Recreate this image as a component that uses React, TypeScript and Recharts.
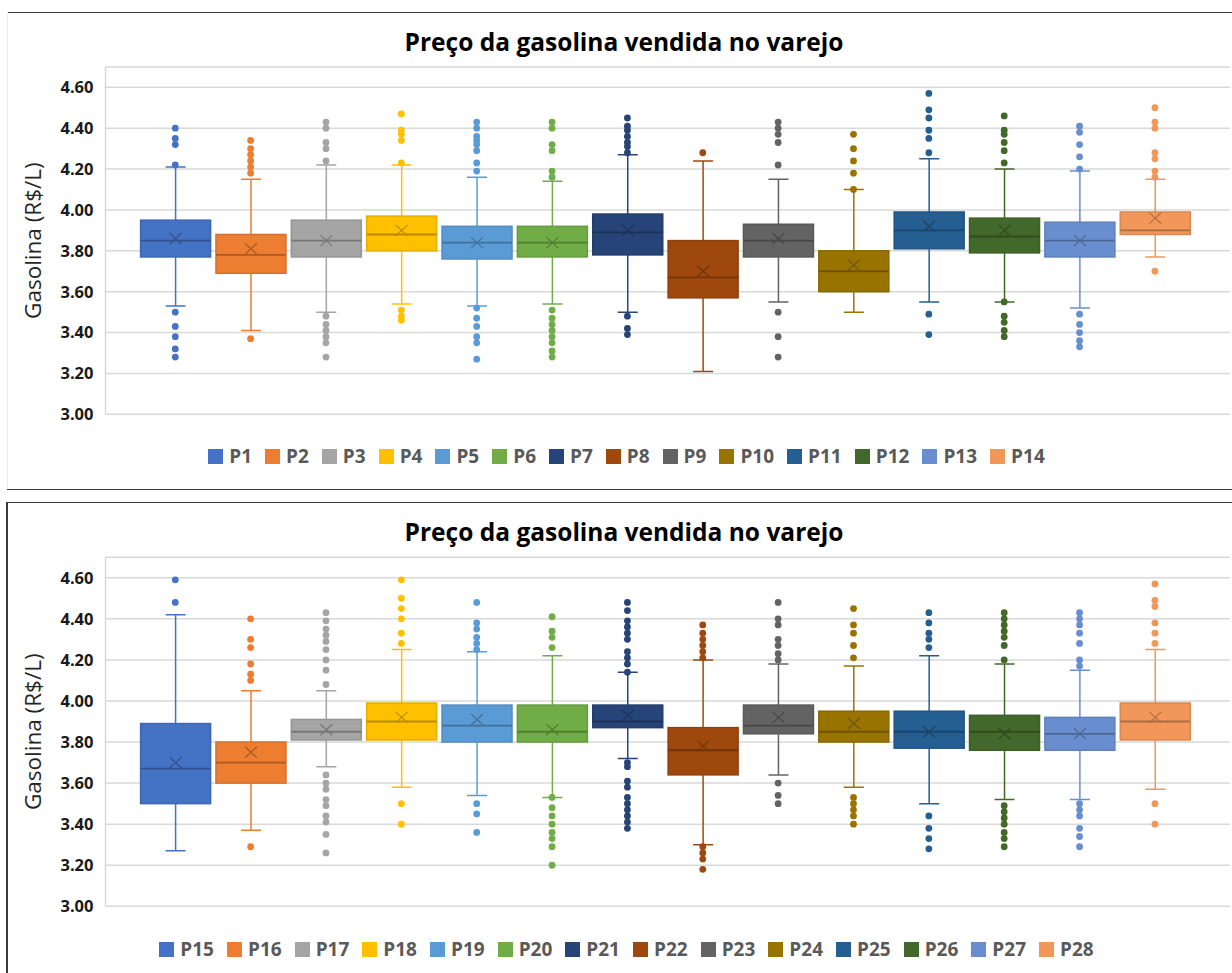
import React from 'react';
import { ComposedChart, Bar, Scatter, XAxis, YAxis, CartesianGrid, Legend } from 'recharts';

const TITLE = 'Preço da gasolina vendida no varejo';
const Y_LABEL = 'Gasolina (R$/L)';
const Y_TICKS = [3.0, 3.2, 3.4, 3.6, 3.8, 4.0, 4.2, 4.4, 4.6];
const Y_DOMAIN = [3.0, 4.7];

const PALETTE = ['#4472C4', '#ED7D31', '#A5A5A5', '#FFC000', '#5B9BD5', '#70AD47', '#264478', '#9E480E', '#636363', '#997300', '#255E91', '#43682B', '#698ED0', '#F1975A'];

// ---------- Panel 1 (P1..P14) ----------
const namesA = ['P1', 'P2', 'P3', 'P4', 'P5', 'P6', 'P7', 'P8', 'P9', 'P10', 'P11', 'P12', 'P13', 'P14'];
const lowA = [3.53, 3.41, 3.50, 3.54, 3.53, 3.54, 3.50, 3.21, 3.55, 3.50, 3.55, 3.55, 3.52, 3.77];
const q1A = [3.77, 3.69, 3.77, 3.80, 3.76, 3.77, 3.78, 3.57, 3.77, 3.60, 3.81, 3.79, 3.77, 3.88];
const medA = [3.85, 3.78, 3.85, 3.88, 3.84, 3.84, 3.89, 3.67, 3.85, 3.70, 3.90, 3.87, 3.85, 3.90];
const q3A = [3.95, 3.88, 3.95, 3.97, 3.92, 3.92, 3.98, 3.85, 3.93, 3.80, 3.99, 3.96, 3.94, 3.99];
const highA = [4.21, 4.15, 4.22, 4.22, 4.16, 4.14, 4.27, 4.24, 4.15, 4.10, 4.25, 4.20, 4.19, 4.15];
const meanA = [3.86, 3.81, 3.85, 3.90, 3.84, 3.84, 3.90, 3.70, 3.86, 3.73, 3.92, 3.90, 3.85, 3.96];
const outA = [
  [4.40, 4.35, 4.32, 4.22, 3.50, 3.43, 3.38, 3.32, 3.28],
  [4.34, 4.30, 4.27, 4.24, 4.21, 4.18, 3.37],
  [4.43, 4.40, 4.33, 4.30, 4.24, 3.48, 3.44, 3.41, 3.38, 3.35, 3.28],
  [4.47, 4.39, 4.37, 4.34, 4.23, 3.51, 3.48, 3.46],
  [4.43, 4.40, 4.36, 4.34, 4.32, 4.29, 4.23, 4.19, 3.52, 3.47, 3.43, 3.38, 3.35, 3.27],
  [4.43, 4.40, 4.32, 4.29, 4.19, 4.16, 3.51, 3.47, 3.44, 3.41, 3.38, 3.35, 3.31, 3.28],
  [4.45, 4.41, 4.39, 4.36, 4.33, 4.31, 4.28, 3.48, 3.42, 3.39],
  [4.28],
  [4.43, 4.40, 4.37, 4.33, 4.22, 3.50, 3.38, 3.28],
  [4.37, 4.30, 4.24, 4.18, 4.10],
  [4.57, 4.49, 4.45, 4.39, 4.35, 4.28, 3.49, 3.39],
  [4.46, 4.39, 4.37, 4.33, 4.29, 4.23, 3.55, 3.48, 3.45, 3.41, 3.38],
  [4.41, 4.38, 4.32, 4.26, 4.20, 3.49, 3.44, 3.40, 3.36, 3.33],
  [4.50, 4.43, 4.40, 4.28, 4.25, 4.19, 4.16, 3.70],
];

// ---------- Panel 2 (P15..P28) ----------
const namesB = ['P15', 'P16', 'P17', 'P18', 'P19', 'P20', 'P21', 'P22', 'P23', 'P24', 'P25', 'P26', 'P27', 'P28'];
const lowB = [3.27, 3.37, 3.68, 3.58, 3.54, 3.53, 3.72, 3.30, 3.64, 3.58, 3.50, 3.52, 3.52, 3.57];
const q1B = [3.50, 3.60, 3.81, 3.81, 3.80, 3.80, 3.87, 3.64, 3.84, 3.80, 3.77, 3.76, 3.76, 3.81];
const medB = [3.67, 3.70, 3.85, 3.90, 3.88, 3.85, 3.90, 3.76, 3.88, 3.85, 3.85, 3.85, 3.84, 3.90];
const q3B = [3.89, 3.80, 3.91, 3.99, 3.98, 3.98, 3.98, 3.87, 3.98, 3.95, 3.95, 3.93, 3.92, 3.99];
const highB = [4.42, 4.05, 4.05, 4.25, 4.24, 4.22, 4.14, 4.20, 4.18, 4.17, 4.22, 4.18, 4.15, 4.25];
const meanB = [3.70, 3.75, 3.86, 3.92, 3.91, 3.86, 3.93, 3.78, 3.92, 3.89, 3.85, 3.84, 3.84, 3.92];
const outB = [
  [4.59, 4.48],
  [4.40, 4.30, 4.26, 4.18, 4.13, 4.10, 3.29],
  [4.43, 4.39, 4.35, 4.32, 4.29, 4.25, 4.20, 4.15, 4.08, 3.64, 3.60, 3.57, 3.52, 3.49, 3.44, 3.41, 3.35, 3.26],
  [4.59, 4.50, 4.45, 4.40, 4.33, 4.28, 3.50, 3.40],
  [4.48, 4.38, 4.35, 4.31, 4.28, 4.25, 3.50, 3.45, 3.36],
  [4.41, 4.34, 4.31, 4.26, 3.53, 3.48, 3.44, 3.40, 3.36, 3.33, 3.29, 3.20],
  [4.48, 4.44, 4.39, 4.36, 4.33, 4.30, 4.24, 4.21, 4.18, 4.14, 3.70, 3.68, 3.61, 3.58, 3.53, 3.50, 3.47, 3.44, 3.41, 3.38],
  [4.37, 4.33, 4.30, 4.27, 4.24, 4.21, 3.29, 3.26, 3.23, 3.18],
  [4.48, 4.40, 4.37, 4.30, 4.27, 4.23, 4.20, 3.60, 3.54, 3.50],
  [4.45, 4.37, 4.33, 4.27, 4.21, 3.53, 3.50, 3.47, 3.44, 3.40],
  [4.43, 4.38, 4.33, 4.30, 4.26, 3.44, 3.38, 3.33, 3.28],
  [4.43, 4.40, 4.37, 4.34, 4.31, 4.27, 4.20, 3.49, 3.46, 3.43, 3.40, 3.36, 3.33, 3.29],
  [4.43, 4.40, 4.37, 4.33, 4.28, 4.20, 4.17, 3.50, 3.47, 3.44, 3.38, 3.34, 3.29],
  [4.57, 4.49, 4.46, 4.38, 4.33, 4.28, 3.50, 3.40],
];

function darken(hex: string, f: number) {
  const n = parseInt(hex.slice(1), 16);
  const r = Math.round(((n >> 16) & 255) * f);
  const g = Math.round(((n >> 8) & 255) * f);
  const b = Math.round((n & 255) * f);
  return `rgb(${r},${g},${b})`;
}

const BoxShape = (props: any) => {
  const { x, y, width, height, payload } = props;
  if (!payload || !isFinite(y) || !isFinite(height)) return null;
  const { wlo, whi, q1, q3, med, mean, color } = payload;
  const k = height / (whi - wlo);
  const py = (v: number) => y + (whi - v) * k;
  const cx = x + width / 2;
  const border = darken(color, 0.9);
  const dark = darken(color, 0.72);
  const cap = 10;
  const yq3 = py(q3);
  const yq1 = py(q1);
  const ym = py(med);
  const ymean = py(mean);
  const yb = y + height;
  return (
    <g>
      <line x1={cx} x2={cx} y1={y} y2={yq3} stroke={color} strokeWidth={1.5} />
      <line x1={cx} x2={cx} y1={yq1} y2={yb} stroke={color} strokeWidth={1.5} />
      <line x1={cx - cap} x2={cx + cap} y1={y} y2={y} stroke={color} strokeWidth={1.5} />
      <line x1={cx - cap} x2={cx + cap} y1={yb} y2={yb} stroke={color} strokeWidth={1.5} />
      <rect x={x} y={yq3} width={width} height={yq1 - yq3} fill={color} stroke={border} strokeWidth={1.5} />
      <line x1={x} x2={x + width} y1={ym} y2={ym} stroke={dark} strokeWidth={1.8} />
      <path
        d={`M${cx - 6},${ymean - 5.5}L${cx + 6},${ymean + 5.5}M${cx - 6},${ymean + 5.5}L${cx + 6},${ymean - 5.5}`}
        stroke={dark}
        strokeWidth={1.2}
        fill="none"
      />
    </g>
  );
};

const OutlierDot = (p: any) => {
  if (p.cx == null || p.cy == null) return null;
  return <circle cx={p.cx} cy={p.cy} r={3.4} fill={p.payload?.color} />;
};

function LegendRow({ names, padTop }: { names: string[]; padTop: number }) {
  return (
    <div style={{ paddingTop: padTop, paddingLeft: 18, display: 'flex', justifyContent: 'center', alignItems: 'center', height: 28, boxSizing: 'content-box' }}>
      {names.map((n, i) => (
        <div key={n} style={{ display: 'flex', alignItems: 'center', marginRight: i === names.length - 1 ? 0 : 13 }}>
          <span style={{ display: 'inline-block', width: 15, height: 15, background: PALETTE[i], marginRight: 6 }} />
          <span style={{ fontFamily: '"Open Sans", sans-serif', fontWeight: 700, fontSize: 19, color: '#595959', lineHeight: '28px' }}>{n}</span>
        </div>
      ))}
    </div>
  );
}

type PanelProps = {
  names: string[];
  low: number[];
  q1: number[];
  med: number[];
  q3: number[];
  high: number[];
  mean: number[];
  outs: number[][];
  top: number;
  height: number;
  marginTop: number;
  marginBottom: number;
  legendPad: number;
  titleY: number;
};

function Panel(p: PanelProps) {
  const rows = p.names.map((n, i) => ({
    name: n,
    wlo: p.low[i],
    q1: p.q1[i],
    med: p.med[i],
    q3: p.q3[i],
    whi: p.high[i],
    mean: p.mean[i],
    color: PALETTE[i],
  }));
  const points = p.names.flatMap((n, i) => p.outs[i].map((v) => ({ name: n, v, color: PALETTE[i] })));
  return (
    <div style={{ position: 'absolute', left: 0, top: p.top, width: 1232, height: p.height }}>
      <div
        style={{
          position: 'absolute',
          left: 8,
          width: 1232,
          top: p.titleY - 18,
          height: 36,
          lineHeight: '36px',
          textAlign: 'center',
          fontFamily: '"Open Sans", sans-serif',
          fontWeight: 700,
          fontSize: 24.5,
          color: '#000',
          zIndex: 2,
        }}
      >
        {TITLE}
      </div>
      <ComposedChart
        width={1232}
        height={p.height}
        data={rows}
        margin={{ top: p.marginTop, right: 2, bottom: p.marginBottom, left: 5 }}
      >
        <CartesianGrid horizontal vertical={false} stroke="#d9d9d9" strokeWidth={1.5} />
        <XAxis
          dataKey="name"
          type="category"
          allowDuplicatedCategory={false}
          hide
          padding={{ left: 32.1, right: 37.4 }}
        />
        <YAxis
          type="number"
          width={100.5}
          domain={Y_DOMAIN}
          ticks={Y_TICKS}
          allowDataOverflow
          axisLine={{ stroke: '#d9d9d9', strokeWidth: 1.5 }}
          tickLine={false}
          tickSize={6}
          tickMargin={6}
          tickFormatter={(v: number) => v.toFixed(2)}
          tick={{ fontFamily: '"Open Sans", sans-serif', fontWeight: 700, fontSize: 16.5, fill: '#1a1a1a' }}
          label={{
            content: (lp: any) => {
              const vb = lp.viewBox || { x: 5, y: p.marginTop, width: 100.5, height: 340 };
              const cx = vb.x + 28;
              const cy = vb.y + vb.height / 2;
              return (
                <text
                  x={cx}
                  y={cy}
                  transform={`rotate(-90 ${cx} ${cy})`}
                  textAnchor="middle"
                  dominantBaseline="central"
                  fontFamily='"Open Sans", sans-serif'
                  fontSize={22.5}
                  fill="#262626"
                >
                  {Y_LABEL}
                </text>
              );
            },
          }}
        />
        <Legend verticalAlign="bottom" content={() => <LegendRow names={p.names} padTop={p.legendPad} />} />
        <Bar
          dataKey={(d: any) => [d.wlo, d.whi]}
          barSize={70}
          shape={BoxShape}
          isAnimationActive={false}
          legendType="none"
        />
        <Scatter
          data={points}
          dataKey="v"
          shape={OutlierDot}
          isAnimationActive={false}
          legendType="none"
        />
      </ComposedChart>
    </div>
  );
}

export default function App() {
  return (
    <div style={{ position: 'absolute', left: 0, top: 0, width: 1232, height: 973, background: '#fff', overflow: 'hidden' }}>
      <Panel
        names={namesA}
        low={lowA}
        q1={q1A}
        med={medA}
        q3={q3A}
        high={highA}
        mean={meanA}
        outs={outA}
        top={0}
        height={489}
        marginTop={66.9}
        marginBottom={19}
        legendPad={27.7}
        titleY={42}
      />
      <Panel
        names={namesB}
        low={lowB}
        q1={q1B}
        med={medB}
        q3={q3B}
        high={highB}
        mean={meanB}
        outs={outB}
        top={489}
        height={484}
        marginTop={68.2}
        marginBottom={10}
        legendPad={28.7}
        titleY={42.7}
      />
      {/* panel frames */}
      <div style={{ position: 'absolute', left: 7, top: 11.5, width: 1225, height: 1.5, background: '#3a3a3a' }} />
      <div style={{ position: 'absolute', left: 6.5, top: 12, width: 1, height: 477, background: '#ececec' }} />
      <div style={{ position: 'absolute', left: 7, top: 488.5, width: 1225, height: 1.7, background: '#3a3a3a' }} />
      <div style={{ position: 'absolute', left: 7, top: 501.5, width: 1225, height: 1.7, background: '#3a3a3a' }} />
      <div style={{ position: 'absolute', left: 6, top: 501.5, width: 1.7, height: 472, background: '#3a3a3a' }} />
    </div>
  );
}
